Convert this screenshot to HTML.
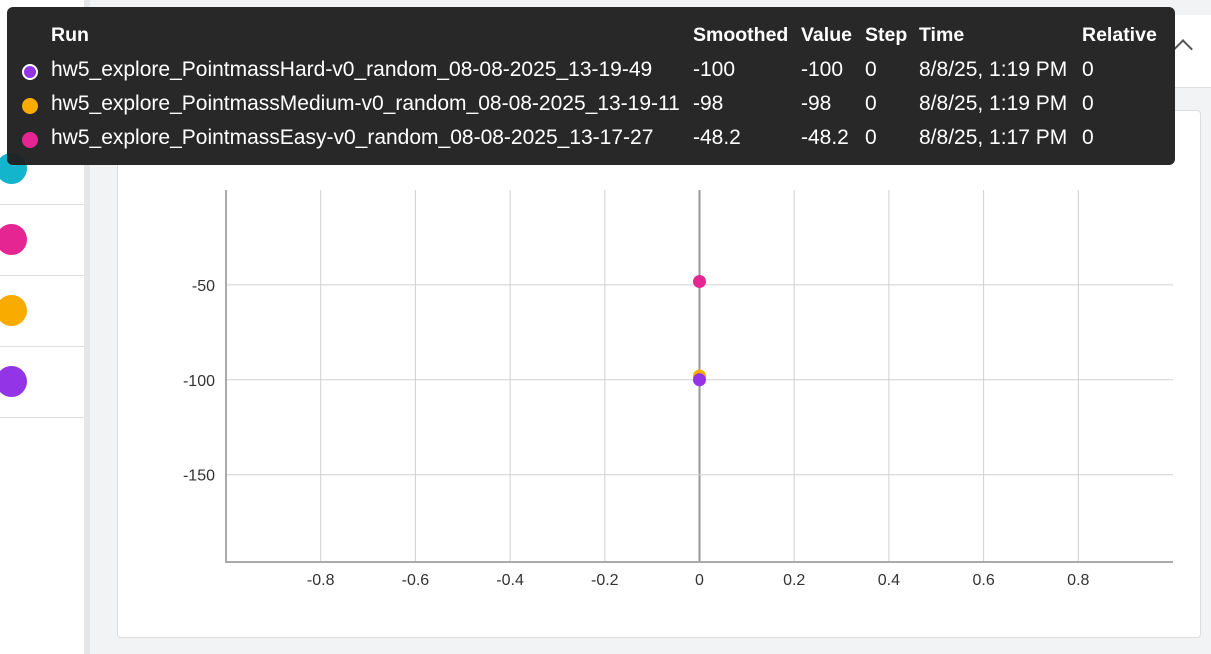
<!DOCTYPE html>
<html><head><meta charset="utf-8"><style>
body{margin:0;width:1211px;height:654px;overflow:hidden;background:#f1f3f4;font-family:"Liberation Sans",sans-serif;position:relative}
.abs{position:absolute}
.tt{left:7px;top:7px;width:1168px;height:158px;background:rgba(33,33,33,0.97);border-radius:6px;color:#fff;font-size:21px}
.tt div{position:absolute;white-space:nowrap}
.h{font-weight:bold;top:17px;font-size:19.5px}
</style></head><body>
<div class="abs" style="left:0;top:0;width:84px;height:654px;background:#fff"></div>
<div class="abs" style="left:84px;top:0;width:6px;height:654px;background:#e6e6e6"></div>
<div class="abs" style="left:-4px;top:153px;width:31px;height:31px;border-radius:50%;background:#12b5cb"></div>
<div class="abs" style="left:-4px;top:224px;width:31px;height:31px;border-radius:50%;background:#e52592"></div>
<div class="abs" style="left:-4px;top:295px;width:31px;height:31px;border-radius:50%;background:#f9ab00"></div>
<div class="abs" style="left:-4px;top:366px;width:31px;height:31px;border-radius:50%;background:#9334e6"></div>
<div class="abs" style="left:0;top:204px;width:84px;height:1px;background:#ddd"></div>
<div class="abs" style="left:0;top:275px;width:84px;height:1px;background:#ddd"></div>
<div class="abs" style="left:0;top:346px;width:84px;height:1px;background:#ddd"></div>
<div class="abs" style="left:0;top:417px;width:84px;height:1px;background:#ddd"></div>
<div class="abs" style="left:90px;top:15px;width:1121px;height:72px;background:#fff;border-bottom:1px solid #ddd"></div>
<div class="abs" style="left:1176px;top:42px;width:12px;height:12px;border-left:2px solid #555;border-top:2px solid #555;transform:rotate(45deg)"></div>
<div class="abs" style="left:117px;top:110px;width:1082px;height:526px;background:#fff;border:1px solid #ddd;border-radius:4px"></div>
<svg class="abs" style="left:0;top:0" width="1211" height="654">
<g id="grid"></g><g id="pts"></g>
</svg>
<div class="abs tt">
<div class="h" style="left:44px">Run</div>
<div class="h" style="left:686px">Smoothed</div>
<div class="h" style="left:794px">Value</div>
<div class="h" style="left:858px">Step</div>
<div class="h" style="left:912px">Time</div>
<div class="h" style="left:1075px">Relative</div>
<div id="rows"></div>
</div>
<script>
const runs=["hw5_explore_PointmassHard-v0_random_08-08-2025_13-19-49","hw5_explore_PointmassMedium-v0_random_08-08-2025_13-19-11","hw5_explore_PointmassEasy-v0_random_08-08-2025_13-17-27"];
const colors=["#9334e6","#f9ab00","#e52592"];
const steps=[0,0,0];
const values=[-100,-98,-48.2];
const times=["8/8/25, 1:19 PM","8/8/25, 1:19 PM","8/8/25, 1:17 PM"];
const xTicks=[-0.8,-0.6,-0.4,-0.2,0,0.2,0.4,0.6,0.8];
const yTicks=[-50,-100,-150];
const X0=226,X1=1173,Y0=190,Y1=562;
const xs=v=>X0+(v+1)/2*(X1-X0);
const ys=v=>Y0+(0-v)/196*(Y1-Y0);
const ns="http://www.w3.org/2000/svg";
const g=document.getElementById('grid');
function mk(t,a,p){const e=document.createElementNS(ns,t);for(const k in a)e.setAttribute(k,a[k]);p.appendChild(e);return e;}
for(const t of xTicks){const l=mk('line',{x1:xs(t),x2:xs(t),y1:Y0,y2:Y1,stroke:t===0?'#999':'#d0d0d0','stroke-width':t===0?2:1},g);

const tx=mk('text',{x:xs(t),y:Y1+23,'text-anchor':'middle','font-size':16,fill:'#333'},g);tx.textContent=String(t);
}
for(const t of yTicks){const l=mk('line',{x1:X0,x2:X1,y1:ys(t),y2:ys(t),stroke:'#d0d0d0'},g);

const tx=mk('text',{x:X0-11,y:ys(t)+6,'text-anchor':'end','font-size':16,fill:'#333'},g);tx.textContent=String(t);
}
const ax=mk('path',{d:`M${X0} ${Y0}V${Y1}H${X1}`,stroke:'#aaa','stroke-width':2,fill:'none'},g);

const pg=document.getElementById('pts');
[1,2,0].forEach(i=>{const c=mk('circle',{cx:xs(steps[i]),cy:ys(values[i]),r:6.5,fill:colors[i]},pg);
});
const rows=document.getElementById('rows');
runs.forEach((r,i)=>{const top=51+i*34;
const add=(html,left,style)=>{const d=document.createElement('div');d.style.cssText=`left:${left}px;top:${top}px;${style||''}`;d.textContent=html;rows.appendChild(d);return d;};
const dot=add('',15,`top:${top+6}px;width:12px;height:12px;border-radius:50%;background:${colors[i]};border:${i===0?'2px solid #fff':'2px solid '+colors[i]}`);

const a=add(r,44);
const b=add(String(values[i]),686);
const c=add(String(values[i]),794);
const d=add(String(steps[i]),858);
const e=add(times[i],912);
const f=add('0',1075);
});
</script>
</body></html>
